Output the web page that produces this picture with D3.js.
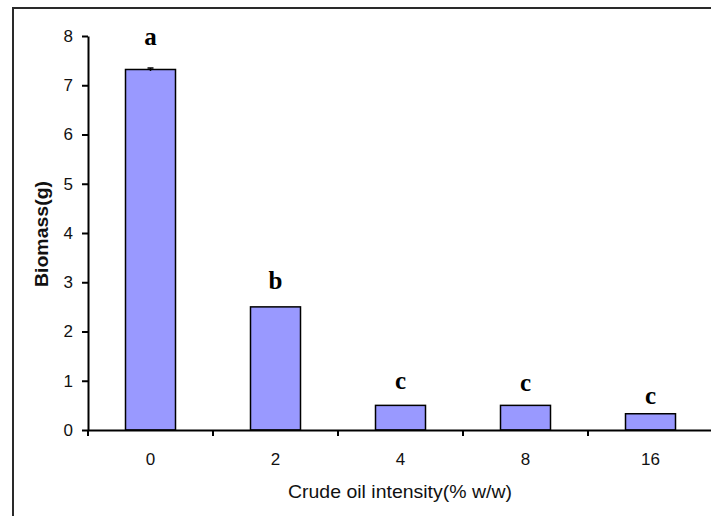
<!DOCTYPE html>
<html>
<head>
<meta charset="utf-8">
<script src="https://cdn.jsdelivr.net/npm/d3@7"></script>
<style>
  html, body { margin: 0; padding: 0; background: #fff; }
  svg { display: block; }
</style>
</head>
<body>
<svg id="chart" width="711" height="516"></svg>
<script>
const categories = ["0", "2", "4", "8", "16"];
const biomass = [7.32, 2.5, 0.5, 0.5, 0.33];
const errors = [0.03, 0, 0, 0, 0];
const letters = ["a", "b", "c", "c", "c"];
const letterLevels = [7.82, 2.86, 0.83, 0.79, 0.53];
const yTicks = [0, 1, 2, 3, 4, 5, 6, 7, 8];
const xTitle = "Crude oil intensity(% w/w)";
const yTitle = "Biomass(g)";

const svg = d3.select("#chart");

// outer frame (cut by the picture edge on right and bottom)
svg.append("rect")
  .attr("x", 13).attr("y", 8).attr("width", 740).attr("height", 560)
  .attr("fill", "none").attr("stroke", "#2a2a2a").attr("stroke-width", 2);

const y = d3.scaleLinear().domain([0, 8]).range([430, 36]);
const x = d3.scaleBand().domain(categories).range([88, 713]).padding(0);
const barW = x.bandwidth() * 0.4;

// bars
svg.append("g").selectAll("rect")
  .data(categories)
  .join("rect")
  .attr("x", (c) => x(c) + (x.bandwidth() - barW) / 2)
  .attr("y", (c, i) => y(biomass[i]))
  .attr("width", barW)
  .attr("height", (c, i) => y(0) - y(biomass[i]))
  .attr("fill", "#9999ff")
  .attr("stroke", "#000")
  .attr("stroke-width", 1.5);

// error bars
const eg = svg.append("g").attr("stroke", "#000").attr("stroke-width", 1.5);
categories.forEach((c, i) => {
  if (!errors[i]) return;
  const cx = x(c) + x.bandwidth() / 2;
  eg.append("line").attr("x1", cx).attr("x2", cx)
    .attr("y1", y(biomass[i] + errors[i])).attr("y2", y(biomass[i] - errors[i]));
  eg.append("line").attr("x1", cx - 3).attr("x2", cx + 3)
    .attr("y1", y(biomass[i] + errors[i])).attr("y2", y(biomass[i] + errors[i]));
});

// significance letters
svg.append("g").selectAll("text")
  .data(categories)
  .join("text")
  .attr("x", (c) => x(c) + x.bandwidth() / 2)
  .attr("y", (c, i) => y(letterLevels[i]))
  .attr("text-anchor", "middle")
  .attr("font-family", "'Liberation Serif', 'Times New Roman', serif")
  .attr("font-weight", "bold")
  .attr("font-size", 25)
  .attr("fill", "#000")
  .text((c, i) => letters[i]);

// y axis
const yAxis = svg.append("g")
  .attr("transform", "translate(88,0)")
  .call(d3.axisLeft(y).tickValues(yTicks).tickFormat(d3.format("d")).tickSize(6).tickPadding(9).tickSizeOuter(0));
yAxis.select(".domain").attr("stroke", "#000").attr("stroke-width", 2);
yAxis.selectAll(".tick line").attr("stroke", "#000").attr("stroke-width", 2);
yAxis.selectAll("text")
  .attr("font-family", "'Liberation Sans', Arial, sans-serif")
  .attr("font-size", 17).attr("fill", "#111");

// x axis
const xAxis = svg.append("g")
  .attr("transform", "translate(0,430)")
  .call(d3.axisBottom(x).tickSize(0).tickPadding(23).tickSizeOuter(0));
xAxis.select(".domain").attr("stroke", "#000").attr("stroke-width", 2);
xAxis.selectAll("text")
  .attr("font-family", "'Liberation Sans', Arial, sans-serif")
  .attr("font-size", 17).attr("fill", "#111");
// category boundary ticks
xAxis.append("g").selectAll("line")
  .data(categories)
  .join("line")
  .attr("x1", (c) => x(c)).attr("x2", (c) => x(c))
  .attr("y1", 0).attr("y2", 6)
  .attr("stroke", "#000").attr("stroke-width", 2);

// axis titles
svg.append("text")
  .attr("x", 400).attr("y", 498)
  .attr("text-anchor", "middle")
  .attr("font-family", "'Liberation Sans', Arial, sans-serif")
  .attr("font-size", 19)
  .attr("textLength", 224).attr("lengthAdjust", "spacingAndGlyphs")
  .attr("fill", "#111")
  .text(xTitle);

svg.append("text")
  .attr("transform", "translate(48,234) rotate(-90)")
  .attr("text-anchor", "middle")
  .attr("font-family", "'Liberation Sans', Arial, sans-serif")
  .attr("font-weight", "bold")
  .attr("font-size", 18)
  .attr("textLength", 106).attr("lengthAdjust", "spacingAndGlyphs")
  .attr("fill", "#111")
  .text(yTitle);
</script>
</body>
</html>
